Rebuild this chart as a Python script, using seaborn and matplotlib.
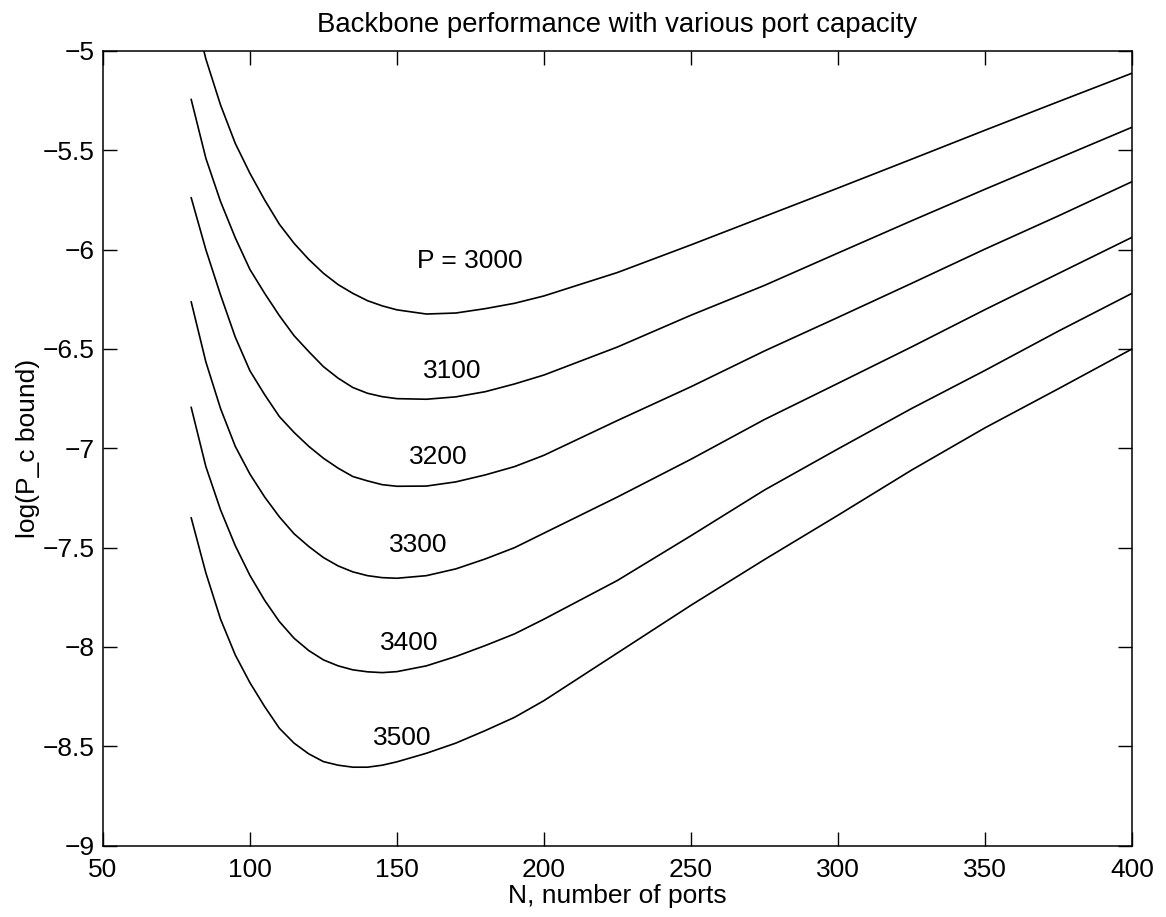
import numpy as np
import pandas as pd
import matplotlib
matplotlib.use("Agg")
import matplotlib.pyplot as plt
from matplotlib.ticker import FixedLocator, FuncFormatter
import seaborn as sns

# ---- data ----
N = [80, 85, 90, 95, 100, 105, 110, 115, 120, 125, 130, 135, 140, 145, 150,
     160, 170, 180, 190, 200, 225, 250, 275, 300, 325, 350, 375, 400]

p3000 = [-4.74, -5.04, -5.272, -5.465, -5.616, -5.75, -5.872, -5.968, -6.049, -6.119,
         -6.176, -6.22, -6.257, -6.283, -6.303, -6.324, -6.319, -6.297, -6.27, -6.233,
         -6.115, -5.976, -5.833, -5.69, -5.545, -5.399, -5.255, -5.112]
p3100 = [-5.243, -5.54, -5.758, -5.94, -6.10, -6.22, -6.332, -6.433, -6.513, -6.589,
         -6.647, -6.694, -6.723, -6.74, -6.75, -6.753, -6.741, -6.715, -6.676, -6.631,
         -6.49, -6.33, -6.18, -6.017, -5.855, -5.696, -5.54, -5.384]
p3200 = [-5.738, -6.0, -6.228, -6.44, -6.61, -6.73, -6.84, -6.92, -6.99, -7.05,
         -7.1, -7.142, -7.164, -7.183, -7.191, -7.19, -7.169, -7.134, -7.092, -7.035,
         -6.86, -6.69, -6.51, -6.341, -6.17, -5.997, -5.83, -5.658]
p3300 = [-6.262, -6.565, -6.80, -6.99, -7.13, -7.245, -7.345, -7.43, -7.494, -7.55,
         -7.592, -7.622, -7.641, -7.651, -7.654, -7.641, -7.607, -7.557, -7.5, -7.427,
         -7.245, -7.055, -6.855, -6.673, -6.49, -6.302, -6.12, -5.938]
p3400 = [-6.793, -7.092, -7.31, -7.49, -7.64, -7.765, -7.872, -7.956, -8.018, -8.065,
         -8.095, -8.115, -8.125, -8.129, -8.124, -8.095, -8.048, -7.993, -7.934, -7.86,
         -7.665, -7.44, -7.21, -7.003, -6.80, -6.608, -6.41, -6.22]
p3500 = [-7.349, -7.627, -7.86, -8.04, -8.18, -8.3, -8.409, -8.484, -8.538, -8.577,
         -8.595, -8.605, -8.605, -8.595, -8.578, -8.535, -8.484, -8.421, -8.354, -8.27,
         -8.03, -7.79, -7.56, -7.337, -7.11, -6.897, -6.70, -6.50]

capacities = [3000, 3100, 3200, 3300, 3400, 3500]
curve_labels = ["P = 3000", "3100", "3200", "3300", "3400", "3500"]
label_x = [174.8, 168.7, 163.9, 157.4, 154.3, 151.8]
label_y = [-6.056, -6.61, -7.044, -7.488, -7.978, -8.459]

x_ticks = [50, 100, 150, 200, 250, 300, 350, 400]
y_ticks = [-9, -8.5, -8, -7.5, -7, -6.5, -6, -5.5, -5]

title = "Backbone performance with various port capacity"
x_label = "N, number of ports"
y_label = "log(P_c bound)"

# ---- build long table ----
series = [p3000, p3100, p3200, p3300, p3400, p3500]
frames = []
for cap, vals in zip(capacities, series):
    frames.append(pd.DataFrame({"N": N, "logP": vals, "P": cap}))
df = pd.concat(frames, ignore_index=True)

sns.set_style("ticks")
plt.rcParams["font.family"] = ["Liberation Sans", "DejaVu Sans"]
plt.rcParams["axes.unicode_minus"] = True
for key in ["text.color", "axes.labelcolor", "xtick.color", "ytick.color", "axes.edgecolor"]:
    plt.rcParams[key] = "black"

fig = plt.figure(figsize=(11.66, 9.17), dpi=100)
ax = fig.add_axes([0.0883, 0.0778, 0.8825, 0.8666])

sns.lineplot(data=df, x="N", y="logP", hue="P", palette=["black"] * 6,
             estimator=None, sort=False, legend=False, linewidth=1.2, ax=ax)

ax.set_xlim(50, 400)
ax.set_ylim(-9, -5)
ax.xaxis.set_major_locator(FixedLocator(x_ticks))
ax.yaxis.set_major_locator(FixedLocator(y_ticks))
fmt = FuncFormatter(lambda v, pos: ("%g" % v).replace("-", "\u2212"))
ax.xaxis.set_major_formatter(fmt)
ax.yaxis.set_major_formatter(fmt)

ax.tick_params(direction="in", length=10, width=1.0, top=True, right=True,
               labelsize=19, colors="black")
ax.tick_params(axis="x", pad=9)
ax.tick_params(axis="y", pad=6)
for s in ax.spines.values():
    s.set_visible(True)
    s.set_linewidth(1.1)
    s.set_color("black")

for txt, lx, ly in zip(curve_labels, label_x, label_y):
    ax.text(lx, ly, txt, fontsize=19, ha="center", va="center", color="black")

ax.set_title(title, fontsize=19.8, pad=14, color="black")
ax.set_xlabel(x_label, fontsize=19, labelpad=1)
ax.set_ylabel(y_label, fontsize=19, labelpad=2)

fig.savefig("out.png", dpi=100, facecolor="white")
